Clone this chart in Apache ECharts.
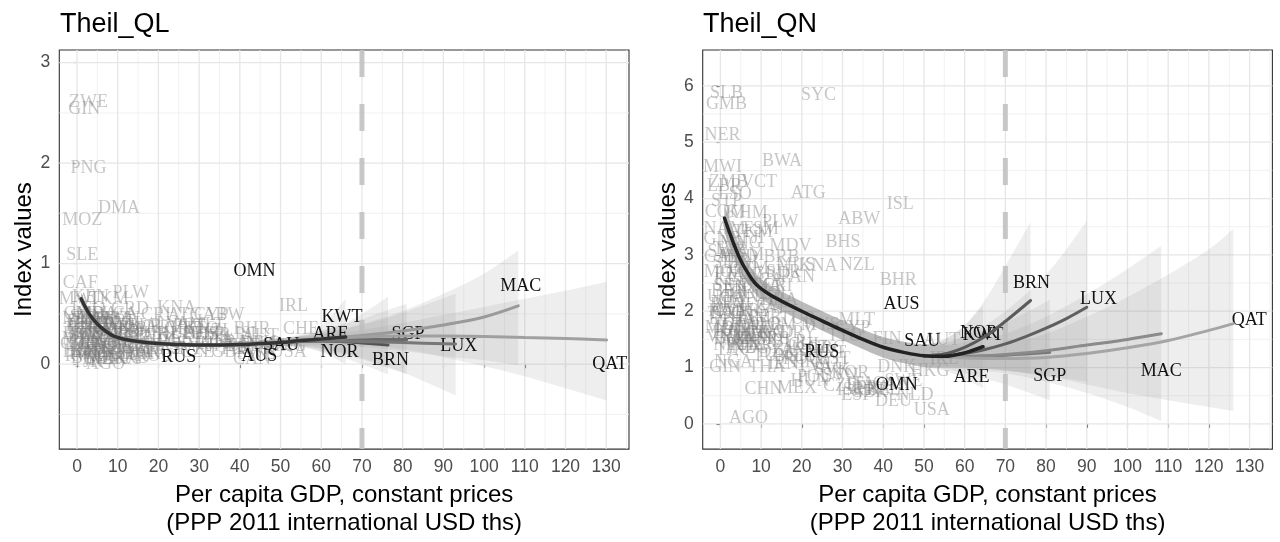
<!DOCTYPE html>
<html><head><meta charset="utf-8">
<script src="https://cdn.jsdelivr.net/npm/echarts@6/dist/echarts.min.js"></script>
<style>html,body{margin:0;padding:0;background:#fff}#c{width:1280px;height:542px}</style>
</head><body><div id="c"></div>
<script>
// ---------- axes / ticks ----------
const xTicks = [0,10,20,30,40,50,60,70,80,90,100,110,120,130];
const xMinor = [5,15,25,35,45,55,65,75,85,95,105,115,125,135];
const qlYTicks = [0,1,2,3];
const qlYMinor = [-0.5,0.5,1.5,2.5];
const qnYTicks = [0,1,2,3,4,5,6];
const qnYMinor = [0.5,1.5,2.5,3.5,4.5,5.5];
const thresholdGdp = 70;

// ---------- Theil_QL : country labels ----------
const qlGreyCodes = ['ZWE','GIN','PNG','DMA','MOZ','SLE','CAF','PLW','MWI','KEN','TKM','KNA','IRL','CRI','ATG','CYP','ABW','GRD','LCA','MLT','CHE','BHS',
 'NER','BDI','COD','LBR','ETH','MDG','TZA','UGA','RWA','BFA','MLI','TGO','GMB','BEN','HTI','NPL','SEN','TCD','KHM','BGD','CMR','ZMB','LSO','KGZ','TJK','CIV',
 'PAK','NIC','GHA','IND','HND','VNM','UZB','MDA','LAO','BOL','PHL','NGA','SLV','GTM','MAR','IDN','PRY','ARM','GEO','EGY','UKR','JAM','SWZ','ALB','LKA',
 'DZA','PER','CHN','COL','ECU','ZAF','THA','SRB','BRA','DOM','MKD','MEX','TUR','BLR','URY','CHL','ARG','KAZ','BGR','ROU','VCT','FJI','AGO','BWA','MNG',
 'HRV','POL','HUN','LVA','LTU','GRC','SVK','EST','PRT','TTO','CZE','SVN','KOR','ESP','ISR','ITA','NZL','JPN','GBR','FRA','FIN','BEL','CAN','DNK','DEU',
 'ISL','AUT','NLD','BHR','SWE','HKG','USA'];
const qlGreyGdp = [2.8,1.8,2.8,10.3,1.3,1.3,0.8,13.2,0.3,3.3,7.8,24.5,53.2,19.4,26.5,33.0,36.0,13.0,10.5,31.9,55.0,30.5,
 0.8,0.3,0.5,0.8,1.5,1.4,2.5,1.8,1.8,1.6,2.0,1.5,1.7,2.1,1.7,2.4,2.4,2.1,3.3,3.1,2.9,3.8,2.8,3.2,2.6,3.3,
 4.6,4.7,3.9,5.2,4.5,5.3,5.6,4.8,5.1,6.2,6.5,5.6,7.6,7.2,7.2,9.9,8.2,7.7,8.6,10.5,8.3,8.5,8.7,10.8,10.9,
 13.5,11.5,12.5,12.4,11.0,12.4,14.0,13.0,14.5,13.0,12.8,16.2,18.0,16.5,19.5,21.0,19.0,21.5,16.0,19.0,10.0,8.3,7.0,15.0,11.5,
 21.5,24.0,24.5,23.5,27.0,26.0,27.5,27.0,27.5,30.5,29.5,29.0,34.0,32.5,34.3,35.0,34.0,35.5,37.5,38.0,39.0,41.0,43.0,44.0,44.5,
 42.0,45.0,46.0,43.0,44.0,51.5,52.0];
const qlGreyIdx = [2.61,2.54,1.95,1.55,1.43,1.08,0.81,0.71,0.65,0.67,0.65,0.56,0.58,0.49,0.49,0.49,0.49,0.55,0.50,0.39,0.35,0.30,
 0.45,0.30,0.20,0.12,0.38,0.25,0.33,0.18,0.08,0.42,0.28,0.35,0.50,0.22,0.14,0.10,0.47,0.30,0.20,0.06,0.40,0.45,0.55,0.12,0.02,0.30,
 0.15,0.25,0.35,0.05,0.40,0.28,0.12,0.50,0.20,0.45,0.10,0.35,0.30,0.18,0.05,0.15,0.40,0.22,0.08,0.12,0.30,0.45,0.38,0.25,0.05,
 0.20,0.32,0.10,0.40,0.45,0.28,0.12,0.35,0.28,0.15,0.06,0.18,0.30,0.38,0.25,0.22,0.12,0.15,0.10,0.08,0.42,0.15,0.00,0.36,0.33,
 0.36,0.22,0.30,0.40,0.30,0.35,0.15,0.25,0.38,0.35,0.12,0.20,0.20,0.30,0.29,0.25,0.33,0.18,0.12,0.22,0.15,0.18,0.05,0.15,0.21,
 0.30,0.28,0.20,0.35,0.10,0.18,0.12];
const qlBlackCodes = ['OMN','RUS','AUS','SAU','KWT','ARE','NOR','BRN','SGP','LUX','MAC','QAT'];
const qlBlackGdp   = [43.6,25.0,44.8,50.2,65.1,62.3,64.5,77.0,81.3,93.8,109.0,130.9];
const qlBlackIdx   = [0.92,0.07,0.08,0.19,0.47,0.30,0.12,0.04,0.30,0.18,0.78,0.00];

// ---------- Theil_QL : smoothed fits (shared low-income part + branch tails) ----------
const qlBaseGdp = [1,3,5,7,9,12,15,20,25,30,35,40,45,50];
const qlBaseFit = [0.65,0.50,0.40,0.33,0.28,0.245,0.225,0.205,0.195,0.19,0.19,0.195,0.205,0.215];
const qlBaseLo  = [0.59,0.46,0.37,0.30,0.25,0.22,0.20,0.185,0.175,0.17,0.17,0.17,0.175,0.18];
const qlBaseHi  = [0.71,0.54,0.43,0.36,0.31,0.27,0.25,0.225,0.215,0.21,0.21,0.22,0.235,0.25];
const qlTailKWT = {gdp:[55,60,66], fit:[0.235,0.25,0.27], lo:[0.17,0.12,0.00], hi:[0.30,0.38,0.65]};
const qlTailBRN = {gdp:[55,60,65,70,76.4], fit:[0.225,0.23,0.225,0.21,0.19], lo:[0.17,0.13,0.07,0.00,-0.10], hi:[0.28,0.33,0.40,0.50,0.67]};
const qlTailSGP = {gdp:[55,60,65,70,75,81], fit:[0.23,0.24,0.245,0.245,0.245,0.245], lo:[0.18,0.15,0.10,0.05,-0.02,-0.10], hi:[0.28,0.33,0.39,0.45,0.52,0.60]};
const qlTailLUX = {gdp:[55,60,70,80,93], fit:[0.225,0.23,0.225,0.215,0.20], lo:[0.18,0.16,0.06,-0.08,-0.31], hi:[0.27,0.30,0.39,0.51,0.70]};
const qlTailMAC = {gdp:[55,60,70,80,90,100,108.4], fit:[0.235,0.25,0.285,0.33,0.39,0.47,0.58], lo:[0.19,0.19,0.17,0.13,0.08,0.04,-0.01], hi:[0.28,0.31,0.40,0.53,0.70,0.90,1.13]};
const qlTailQAT = {gdp:[55,60,70,80,90,100,110,120,130.1], fit:[0.235,0.25,0.27,0.28,0.28,0.275,0.265,0.255,0.24], lo:[0.20,0.21,0.20,0.15,0.07,-0.02,-0.12,-0.24,-0.36], hi:[0.27,0.29,0.34,0.41,0.49,0.57,0.65,0.73,0.82]};

// ---------- Theil_QN : country labels ----------
const qnGreyCodes = ['SLB','GMB','SYC','NER','MWI','BWA','ZMB','LBR','VCT','STP','LSO','ATG','ISL','COM','KHM','ABW','PLW','FSM','NAM','TKM','BHS','MDV','MNG',
 'SWZ','GNB','CAF','SLE','TZA','MOZ','PNG','HND','KEN','BOL','GTM','CPV','NIC','GUY','MUS','KNA','SUR','PAN','NZL','BHR','CRI','BRA','COL','ECU','PRY','PER',
 'DOM','ZAF','JAM','TUR','MYS','LCA','GRD','DMA','UGA','RWA','ETH','MDG','BFA','TGO','HTI','BEN','MLI','TCD','CMR','GHA','CIV','SEN','NPL','BGD','KGZ','TJK',
 'PAK','IND','LAO','VNM','UZB','PHL','MAR','ARM','GEO','UKR','EGY','IDN','LKA','ALB','SRB','MKD','DZA','THA','NGA','GIN','CHN','MEX','AGO','IRN','TUN',
 'BLR','KAZ','BGR','ROU','CHL','URY','ARG','HRV','POL','HUN','LVA','LTU','EST','SVK','TTO','GRC','PRT','CZE','SVN','KOR','ESP','ISR','GBR','CYP','MLT',
 'ITA','JPN','FRA','FIN','BEL','CAN','DEU','DNK','SWE','AUT','NLD','HKG','USA','IRL','BRB','FJI','WSM','TON','VUT'];
const qnGreyGdp = [1.5,1.5,24.1,0.5,0.5,15.1,2.0,1.0,9.5,1.5,3.5,21.6,44.2,1.2,6.5,34.1,14.7,10.0,1.0,8.0,30.1,17.2,5.0,
 1.5,0.5,0.3,2.0,2.5,0.8,3.0,4.5,3.0,6.0,7.0,6.0,4.5,7.0,18.5,24.0,15.5,19.0,33.6,43.7,14.0,14.5,13.0,10.5,8.5,11.0,
 13.5,12.5,8.0,19.0,24.5,11.0,12.5,10.0,1.5,1.8,1.4,1.3,1.6,1.4,1.7,2.1,2.0,2.1,2.9,3.9,3.3,2.4,2.4,3.1,3.2,2.6,
 4.6,5.2,5.1,1.6,5.6,6.5,7.2,7.7,8.6,8.3,10.5,9.9,10.9,10.8,13.0,12.8,13.9,11.4,3.2,1.2,10.6,18.8,6.9,15.5,12.5,
 17.0,22.0,17.5,20.0,21.0,19.0,19.5,22.0,23.0,22.0,23.5,27.0,28.0,27.5,30.5,26.0,27.0,29.4,29.5,31.9,33.5,32.0,36.5,32.5,33.5,
 34.5,35.5,37.5,40.9,40.0,42.0,42.5,43.3,45.0,54.4,47.8,51.5,51.9,55.0,15.0,8.0,5.5,5.0,3.0];
const qnGreyIdx = [5.86,5.67,5.83,5.12,4.56,4.66,4.28,4.22,4.28,3.96,4.07,4.10,3.89,3.76,3.74,3.63,3.58,3.46,3.45,3.40,3.22,3.16,3.20,
 3.05,3.28,2.95,2.85,3.10,2.70,2.65,2.95,2.55,2.85,2.75,2.60,2.40,2.30,2.82,2.80,2.70,2.60,2.81,2.55,2.45,2.20,2.30,2.10,2.00,1.90,
 1.75,2.05,1.85,1.85,1.75,2.55,2.65,2.45,2.25,2.00,1.85,1.70,2.10,1.95,1.60,2.35,2.15,1.75,2.00,1.80,2.20,2.45,1.40,1.50,1.65,1.30,
 1.55,1.35,1.75,1.54,1.45,1.40,1.60,1.50,1.70,1.40,1.35,1.55,1.60,1.75,1.50,1.60,1.28,1.01,1.10,1.01,0.62,0.63,0.10,1.05,1.20,
 1.45,1.35,1.20,1.15,1.40,1.60,1.30,1.10,0.82,0.75,1.00,1.05,1.15,0.95,1.55,1.35,1.25,0.66,0.85,0.90,0.51,0.60,0.56,1.70,1.84,
 0.70,0.62,0.63,1.50,0.60,0.70,0.40,1.01,0.75,1.48,0.51,0.93,0.25,1.15,2.95,3.30,3.00,2.25,1.95];
const qnBlackCodes = ['AUS','SAU','RUS','OMN','ARE','NOR','KWT','BRN','LUX','SGP','MAC','QAT'];
const qnBlackGdp   = [44.5,49.6,24.9,43.3,61.7,63.5,64.5,76.4,92.9,80.9,108.3,129.9];
const qnBlackIdx   = [2.13,1.46,1.28,0.69,0.83,1.60,1.58,2.50,2.21,0.84,0.93,1.84];

// ---------- Theil_QN : smoothed fits ----------
const qnBaseGdp = [1,3,5,7,9,12,15,20,25,30,35,40,45,50];
const qnBaseFit = [3.65,3.25,2.90,2.65,2.46,2.30,2.18,2.00,1.83,1.66,1.50,1.36,1.27,1.21];
const qnBaseLo  = [3.40,3.03,2.70,2.46,2.28,2.13,2.01,1.83,1.66,1.49,1.33,1.18,1.08,1.01];
const qnBaseHi  = [3.90,3.47,3.10,2.84,2.64,2.47,2.35,2.17,2.00,1.83,1.67,1.54,1.46,1.41];
const qnTailKWT = {gdp:[55,60,64.5], fit:[1.20,1.26,1.37], lo:[0.95,0.80,0.63], hi:[1.50,1.75,2.10]};
const qnTailBRN = {gdp:[55,60,65,70,76.2], fit:[1.24,1.36,1.55,1.82,2.19], lo:[1.00,1.00,0.98,0.95,0.90], hi:[1.50,1.75,2.20,2.80,3.58]};
const qnTailSGP = {gdp:[55,60,70,80.9], fit:[1.20,1.20,1.22,1.27], lo:[0.98,0.90,0.70,0.42], hi:[1.45,1.55,1.80,2.20]};
const qnTailLUX = {gdp:[55,60,65,70,75,80,85,90], fit:[1.20,1.25,1.32,1.42,1.55,1.70,1.87,2.07], lo:[1.00,1.00,0.98,0.95,0.90,0.85,0.80,0.75], hi:[1.42,1.55,1.75,2.00,2.30,2.65,3.10,3.60]};
const qnTailMAC = {gdp:[55,60,70,80,90,100,108.3], fit:[1.19,1.19,1.23,1.30,1.40,1.50,1.60], lo:[1.00,0.98,0.90,0.75,0.55,0.30,0.05], hi:[1.40,1.45,1.60,1.90,2.30,2.75,3.16]};
const qnTailQAT = {gdp:[55,60,70,80,90,100,110,120,126], fit:[1.19,1.17,1.16,1.18,1.25,1.35,1.48,1.66,1.78], lo:[1.00,1.00,0.95,0.85,0.70,0.55,0.42,0.30,0.23], hi:[1.40,1.38,1.42,1.60,1.90,2.25,2.65,3.10,3.46]};

// ---------- drawing ----------
const X_MIN = -4.35, X_MAX = 135.6;
const QL_Y = [-0.845, 3.126], QN_Y = [-0.447, 6.636];
const GREY_TXT = 'rgba(120,120,120,0.42)';
const BLACK_TXT = '#111111';
const RIBBON = 'rgba(153,153,153,0.17)';
const SANS = '"Liberation Sans", Arial, sans-serif';
const SERIF = '"Liberation Serif", "Times New Roman", serif';

function gridLineSeries(gi, vals, vertical, yr, color, width) {
  return {type:'custom', xAxisIndex:gi, yAxisIndex:gi, silent:true, clip:false, z:1,
    data: vals.map(v => vertical ? [v, yr[0]] : [X_MIN, v]),
    renderItem: (p, api) => {
      const v = vertical ? api.value(0) : api.value(1);
      const a = vertical ? api.coord([v, yr[0]]) : api.coord([X_MIN, v]);
      const b = vertical ? api.coord([v, yr[1]]) : api.coord([X_MAX, v]);
      return {type:'line', shape:{x1:a[0], y1:a[1], x2:b[0], y2:b[1]}, style:{stroke:color, lineWidth:width}};
    }};
}
function textSeries(gi, codes, xs, ys, color) {
  return {type:'custom', xAxisIndex:gi, yAxisIndex:gi, silent:true, clip:false,
    data: xs.map((x,i) => [x, ys[i]]),
    renderItem: (p, api) => {
      const c = api.coord([api.value(0), api.value(1)]);
      return {type:'text', x:c[0], y:c[1], style:{text:codes[p.dataIndex], fill:color, font:'18px ' + SERIF,
        align:'center', verticalAlign:'middle', textAlign:'center', textVerticalAlign:'middle'}};
    }};
}
function joinTail(base, tail, key) { return base.concat(tail[key]); }
// smooth (Catmull-Rom as cubic Bezier) path segment through already-projected pixel points
function curveThrough(pts) {
  let d = '';
  for (let i = 0; i < pts.length - 1; i++) {
    const p0 = pts[i - 1] || pts[i], p1 = pts[i], p2 = pts[i + 1], p3 = pts[i + 2] || pts[i + 1];
    const c1 = [p1[0] + (p2[0] - p0[0]) / 6, p1[1] + (p2[1] - p0[1]) / 6];
    const c2 = [p2[0] - (p3[0] - p1[0]) / 6, p2[1] - (p3[1] - p1[1]) / 6];
    d += ' C' + c1[0].toFixed(2) + ',' + c1[1].toFixed(2) + ' ' + c2[0].toFixed(2) + ',' + c2[1].toFixed(2) + ' ' + p2[0].toFixed(2) + ',' + p2[1].toFixed(2);
  }
  return d;
}
function ribbonSeries(gi, gdp, lo, hi) {
  return {type:'custom', xAxisIndex:gi, yAxisIndex:gi, silent:true, clip:true,
    data: [[gdp[0], lo[0]]],
    renderItem: (p, api) => {
      const up = gdp.map((x,i) => api.coord([x, hi[i]]));
      const dn = gdp.map((x,i) => api.coord([x, lo[i]])).reverse();
      const d = 'M' + up[0][0].toFixed(2) + ',' + up[0][1].toFixed(2) + curveThrough(up) +
                ' L' + dn[0][0].toFixed(2) + ',' + dn[0][1].toFixed(2) + curveThrough(dn) + ' Z';
      return {type:'path', shape:{pathData:d}, style:{fill:RIBBON}};
    }};
}
function fitSeries(gi, gdp, fit, color, width) {
  return {type:'line', xAxisIndex:gi, yAxisIndex:gi, silent:true, smooth:0.35, showSymbol:false,
    data: gdp.map((x,i) => [x, fit[i]]), lineStyle:{color:color, width:width, cap:'round'}};
}
function vlineSeries(gi, yr) {
  return {type:'line', xAxisIndex:gi, yAxisIndex:gi, silent:true, showSymbol:false,
    data:[[thresholdGdp, yr[1]], [thresholdGdp, yr[0]]],
    lineStyle:{color:'rgba(190,190,190,0.85)', width:5, type:[27,27], cap:'butt'}};
}

function panelSeries(gi, yr, yTicks, yMinor, baseGdp, baseFit, baseLo, baseHi, tails, tailColors, mainColor,
                     greyCodes, greyX, greyY, blackCodes, blackX, blackY) {
  const s = [];
  s.push(gridLineSeries(gi, xMinor, true, yr, '#EEEEEE', 0.8));
  s.push(gridLineSeries(gi, yMinor, false, yr, '#EEEEEE', 0.8));
  s.push(gridLineSeries(gi, xTicks, true, yr, '#E6E6E6', 1.3));
  s.push(gridLineSeries(gi, yTicks, false, yr, '#E6E6E6', 1.3));
  s.push(textSeries(gi, greyCodes, greyX, greyY, GREY_TXT));
  tails.forEach(t => s.push(ribbonSeries(gi, joinTail(baseGdp, t, 'gdp'), joinTail(baseLo, t, 'lo'), joinTail(baseHi, t, 'hi'))));
  s.push(vlineSeries(gi, yr));
  tails.forEach((t, k) => s.push(fitSeries(gi, [baseGdp[baseGdp.length-1]].concat(t.gdp), [baseFit[baseFit.length-1]].concat(t.fit), tailColors[k], 3)));
  s.push(fitSeries(gi, baseGdp.concat(tails[0].gdp), baseFit.concat(tails[0].fit), mainColor, 3.5));
  s.push(textSeries(gi, blackCodes, blackX, blackY, BLACK_TXT));
  return s;
}

function xAxisCfg(gi) {
  return {gridIndex:gi, type:'value', min:X_MIN, max:X_MAX,
    axisLine:{show:false}, splitLine:{show:false},
    axisTick:{show:true, customValues:xTicks, length:4, lineStyle:{color:'#333333', width:1.1}},
    axisLabel:{customValues:xTicks, color:'#4D4D4D', fontSize:17.5, fontFamily:SANS, margin:9},
    name:'Per capita GDP, constant prices\n(PPP 2011 international USD ths)', nameLocation:'middle', nameGap:21,
    nameTextStyle:{color:'#000', fontSize:24, fontFamily:SANS, lineHeight:28}};
}
function yAxisCfg(gi, yr, ticks) {
  return {gridIndex:gi, type:'value', min:yr[0], max:yr[1],
    axisLine:{show:false}, splitLine:{show:false},
    axisTick:{show:true, customValues:ticks, length:4, lineStyle:{color:'#333333', width:1.1}},
    axisLabel:{customValues:ticks, color:'#4D4D4D', fontSize:17.5, fontFamily:SANS, margin:9},
    name:'Index values', nameLocation:'middle', nameGap:10, nameRotate:90,
    nameTextStyle:{color:'#000', fontSize:24, fontFamily:SANS}};
}

const chart = echarts.init(document.getElementById('c'), null, {renderer:'canvas'});
const option = {
  animation:false, backgroundColor:'#ffffff',
  title:[
    {text:'Theil_QL', left:60, top:11, padding:0, textStyle:{fontSize:27, fontWeight:'normal', color:'#000', fontFamily:SANS}},
    {text:'Theil_QN', left:703, top:11, padding:0, textStyle:{fontSize:27, fontWeight:'normal', color:'#000', fontFamily:SANS}}
  ],
  grid:[
    {left:59.3, top:50, width:569.7, height:401, show:true, borderColor:'#333333', borderWidth:1.1, backgroundColor:'transparent'},
    {left:702.7, top:50, width:569.7, height:401, show:true, borderColor:'#333333', borderWidth:1.1, backgroundColor:'transparent'}
  ],
  xAxis:[xAxisCfg(0), xAxisCfg(1)],
  yAxis:[yAxisCfg(0, QL_Y, qlYTicks), yAxisCfg(1, QN_Y, qnYTicks)],
  series: [].concat(
    panelSeries(0, QL_Y, qlYTicks, qlYMinor, qlBaseGdp, qlBaseFit, qlBaseLo, qlBaseHi,
      [qlTailKWT, qlTailBRN, qlTailSGP, qlTailLUX, qlTailMAC, qlTailQAT],
      ['#3a3a3a','#555555','#6a6a6a','#777777','#9a9a9a','#a0a0a0'], '#333333',
      qlGreyCodes, qlGreyGdp, qlGreyIdx, qlBlackCodes, qlBlackGdp, qlBlackIdx),
    panelSeries(1, QN_Y, qnYTicks, qnYMinor, qnBaseGdp, qnBaseFit, qnBaseLo, qnBaseHi,
      [qnTailKWT, qnTailBRN, qnTailSGP, qnTailLUX, qnTailMAC, qnTailQAT],
      ['#333333','#5a5a5a','#777777','#5f5f5f','#8a8a8a','#a5a5a5'], '#222222',
      qnGreyCodes, qnGreyGdp, qnGreyIdx, qnBlackCodes, qnBlackGdp, qnBlackIdx)
  )
};
chart.setOption(option);
</script>
</body></html>
